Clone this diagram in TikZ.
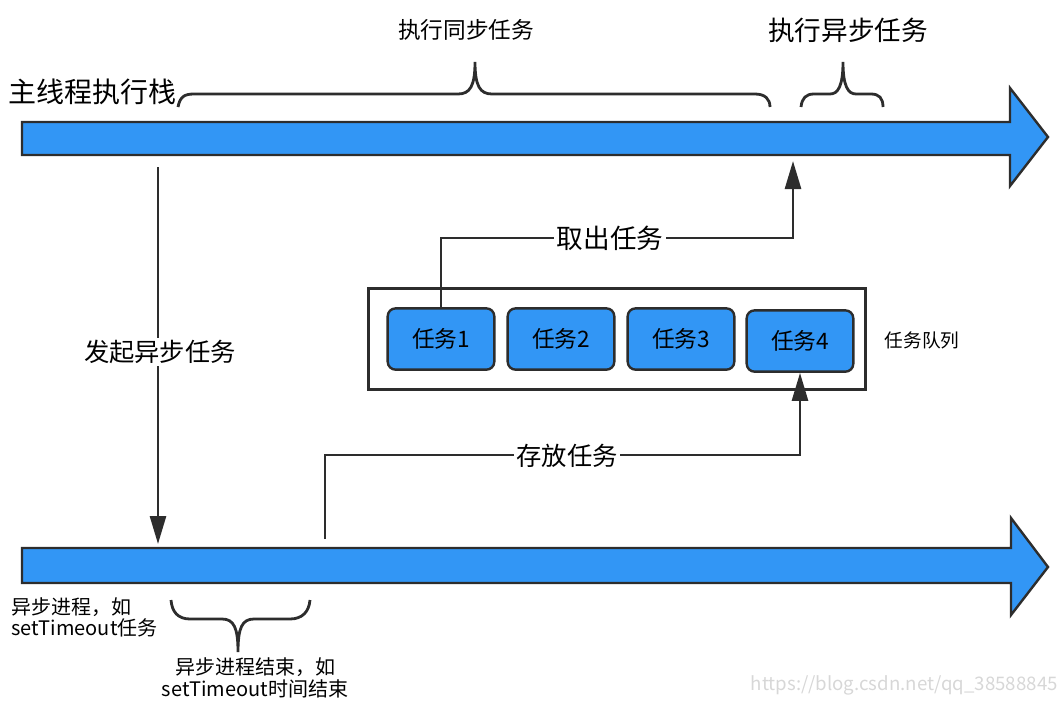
\documentclass[tikz,border=0pt]{standalone}
\usepackage{fontspec}
\setmainfont{Noto Sans CJK SC}
\usetikzlibrary{arrows.meta,calc}
\definecolor{barblue}{RGB}{50,150,245}
\definecolor{edgegray}{RGB}{45,45,45}
\definecolor{wmgray}{RGB}{215,215,215}
\begin{document}
\begin{tikzpicture}[x=0.75pt,y=-0.75pt,
  bigarrow/.style={fill=barblue,draw=edgegray,line width=1.8pt,line join=miter},
  conn/.style={draw=edgegray,line width=2pt,-{Triangle[length=21pt,width=12pt]}},
  bracepath/.style={draw=edgegray,line width=2.1pt},
  task/.style={draw=edgegray,fill=barblue,line width=1.8pt,rounded corners=6pt,minimum width=80pt,minimum height=46pt,font=\fontsize{17}{19}\selectfont},
  queuebox/.style={draw=edgegray,line width=2.2pt,minimum width=373pt,minimum height=76pt},
  lbl/.style={font=\fontsize{19}{22}\selectfont,text=black,inner sep=2pt},
  lblbg/.style={lbl,fill=white}]
\useasboundingbox (0,0) rectangle (1061,701);

% main thread arrow
\path[bigarrow] (22,122) -- (1010,122) -- (1010,88) -- (1048,137) -- (1010,186) -- (1010,155) -- (22,155) -- cycle;
% async process arrow
\path[bigarrow] (22,548) -- (1011,548) -- (1011,518) -- (1048,567) -- (1011,615) -- (1011,583) -- (22,583) -- cycle;

\node[lbl,anchor=west,font=\fontsize{21}{24}\selectfont] (mainlbl) at (6,92) {主线程执行栈};

% brace: sync tasks
\draw[bracepath] (178,107) .. controls (180,97) and (184,94) .. (194,94) -- (458,94)
  .. controls (470,94) and (475,86) .. (475,62) .. controls (475,86) and (480,94) .. (492,94)
  -- (755,94) .. controls (765,94) and (770,99) .. (770,107);
\node[lbl,font=\fontsize{17}{20}\selectfont] (synclbl) at (466,30) {执行同步任务};

% brace: async tasks
\draw[bracepath] (801,107) .. controls (802,98) and (806,94) .. (814,94) -- (830,94)
  .. controls (838,94) and (843,86) .. (843,62) .. controls (843,86) and (848,94) .. (856,94)
  -- (871,94) .. controls (879,94) and (883,98) .. (883,107);
\node[lbl,font=\fontsize{20}{23}\selectfont] (asynclbl) at (848,30) {执行异步任务};

% initiate async task
\coordinate (initA) at (158,167);
\coordinate (initB) at (158,544);
\draw[conn] (initA) -- (initB);
\node[lblbg] (initlbl) at (160,352) {发起异步任务};

% task queue
\node[queuebox] (queue) at (617,339) {};
\node[task] (t1) at (441,339) {任务1};
\node[task] (t2) at (561,339) {任务2};
\node[task] (t3) at (681,339) {任务3};
\node[task] (t4) at (800,341) {任务4};
\node[lbl,font=\fontsize{14}{17}\selectfont] (queuelbl) at (922,340) {任务队列};

% take out task
\coordinate (takeMid) at (793,238);
\coordinate (takeEnd) at (793,161);
\draw[conn] (t1.north) |- (takeMid) -- (takeEnd);
\node[lblbg,font=\fontsize{20}{23}\selectfont] (takelbl) at (610,238) {取出任务};

% store task
\coordinate (storeStart) at (325,539);
\coordinate (storeMid) at (800,455);
\draw[conn] (storeStart) |- (storeMid) -- (t4.south);
\node[lblbg] (storelbl) at (567,456) {存放任务};

% bottom labels
\node[lbl,anchor=north west,align=left,font=\fontsize{15}{16}\selectfont,inner sep=0pt] (asyncproc) at (11,597) {异步进程，如\\setTimeout任务};

\draw[bracepath] (171,600) .. controls (172,612) and (178,619) .. (190,619) -- (222,619)
  .. controls (234,619) and (238,628) .. (238,652) .. controls (238,628) and (242,619) .. (254,619)
  -- (290,619) .. controls (302,619) and (309,612) .. (310,600);
\node[lbl,align=center,font=\fontsize{15}{17}\selectfont,inner sep=0pt] (asyncend) at (255,678) {异步进程结束，如\\setTimeout时间结束};

% watermark
\node[text=wmgray,font=\fontsize{14}{16}\selectfont,anchor=east,inner sep=0pt] (wm) at (1058,685) {https://blog.csdn.net/qq\_38588845};
\end{tikzpicture}
\end{document}
